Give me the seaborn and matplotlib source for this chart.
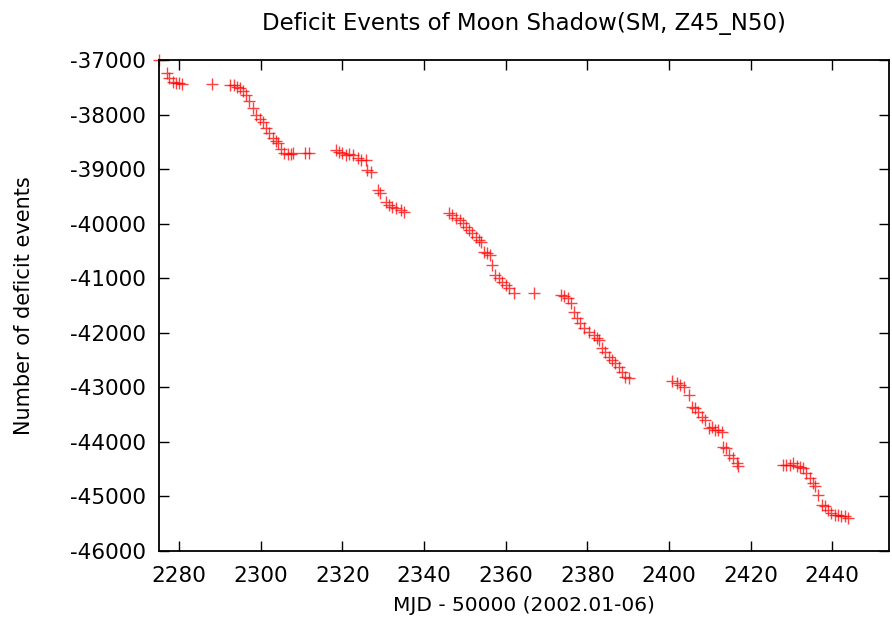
import numpy as np
import pandas as pd
import matplotlib
matplotlib.use("Agg")
import matplotlib.pyplot as plt
import seaborn as sns

MJD = [
    2275.0, 2276.9, 2277.6, 2278.4, 2279.2, 2279.9, 2280.6, 2288.0,
    2292.4, 2293.4, 2294.1, 2295.0, 2295.6, 2296.4, 2297.2, 2298.0, 2298.9,
    2299.7, 2300.5, 2301.3, 2302.1, 2302.9, 2303.6, 2304.3, 2305.0, 2305.7,
    2306.6, 2307.4, 2308.0, 2310.9, 2311.9,
    2318.4, 2319.2, 2320.0, 2320.9, 2321.7, 2322.5, 2323.7, 2324.5, 2325.7,
    2326.1, 2327.1, 2328.6, 2329.2, 2330.6, 2331.4, 2332.2, 2333.1, 2334.3,
    2335.1,
    2346.0, 2346.9, 2347.8, 2348.7, 2349.5, 2350.3, 2350.9, 2351.8, 2352.7,
    2353.5, 2354.0, 2354.6, 2355.4, 2356.1, 2356.7, 2357.5, 2358.4, 2359.2,
    2360.0, 2360.8, 2362.0, 2366.9,
    2373.6, 2374.4, 2375.3, 2376.0, 2376.8, 2377.5, 2378.3, 2379.1, 2380.4,
    2381.6, 2382.4, 2382.8, 2383.6, 2384.4, 2385.2, 2386.0, 2386.9, 2387.7,
    2388.5, 2389.3, 2390.1,
    2400.7, 2401.9, 2402.8, 2403.6, 2404.8, 2405.6, 2406.4, 2407.2, 2408.0,
    2408.9, 2409.7, 2410.5, 2411.3, 2412.1, 2412.9, 2413.3, 2414.1, 2414.6,
    2415.8, 2416.6, 2417.0,
    2428.0, 2428.8, 2429.6, 2430.5, 2431.3, 2432.1, 2432.9, 2433.7, 2434.5,
    2435.3, 2435.7, 2436.5, 2437.4, 2438.2, 2439.0, 2439.8, 2440.6, 2441.4,
    2442.2, 2443.1, 2443.9,
]
DEFICIT = [
    -37000, -37226, -37330, -37390, -37410, -37420, -37430, -37430,
    -37445, -37450, -37490, -37510, -37560, -37640, -37740, -37880, -38000,
    -38070, -38130, -38240, -38340, -38420, -38480, -38510, -38620, -38700,
    -38720, -38720, -38700, -38710, -38710,
    -38650, -38680, -38710, -38740, -38720, -38740, -38800, -38830, -38830,
    -39015, -39046, -39383, -39443, -39597, -39657, -39688, -39718, -39749,
    -39780,
    -39800, -39841, -39890, -39930, -39990, -40050, -40110, -40170, -40240,
    -40300, -40330, -40513, -40543, -40574, -40757, -40940, -41001, -41063,
    -41124, -41185, -41276, -41276,
    -41307, -41325, -41368, -41459, -41612, -41734, -41826, -41918, -41979,
    -42040, -42101, -42132, -42284, -42345, -42437, -42498, -42559, -42620,
    -42712, -42804, -42834,
    -42880, -42926, -42957, -42987, -43140, -43354, -43384, -43446, -43537,
    -43598, -43750, -43720, -43781, -43781, -43812, -44087, -44117, -44240,
    -44300, -44392, -44453,
    -44423, -44423, -44423, -44392, -44453, -44465, -44484, -44575, -44667,
    -44759, -44820, -44972, -45156, -45187, -45248, -45309, -45340, -45340,
    -45358, -45370, -45400,
]

X_TICKS = [2280, 2300, 2320, 2340, 2360, 2380, 2400, 2420, 2440]
Y_TICKS = [-37000, -38000, -39000, -40000, -41000, -42000, -43000,
           -44000, -45000, -46000]

df = pd.DataFrame({"mjd": MJD, "deficit": DEFICIT})

sns.set_style("ticks")
plt.rcParams["font.family"] = ["DejaVu Sans"]
plt.rcParams["axes.unicode_minus"] = False
plt.rcParams["text.color"] = "black"

fig, ax = plt.subplots(figsize=(8.92, 6.28), dpi=100)
fig.subplots_adjust(left=0.178, right=0.997, top=0.904, bottom=0.123)

sns.scatterplot(data=df, x="mjd", y="deficit", ax=ax, marker="+",
                color="#ff0000", s=70, linewidth=1.0, alpha=0.75)
for coll in ax.collections:
    coll.set_clip_on(False)

ax.set_xlim(2275, 2454)
ax.set_ylim(-46000, -37000)
ax.set_xticks(X_TICKS)
ax.set_yticks(Y_TICKS)
ax.set_xticklabels([str(t) for t in X_TICKS])
ax.set_yticklabels([str(t) for t in Y_TICKS])
ax.tick_params(direction="in", length=7, width=1, top=True, right=True,
               labelsize=15.5, colors="black", labelcolor="black")
ax.tick_params(axis="x", pad=11)
ax.tick_params(axis="y", pad=9)
for sp in ax.spines.values():
    sp.set_linewidth(1.3)
    sp.set_color("black")

ax.set_title("Deficit Events of Moon Shadow(SM, Z45_N50)", fontsize=16.5,
             pad=22, color="black")
ax.set_xlabel("MJD - 50000 (2002.01-06)", fontsize=14.5, labelpad=7,
              color="black")
ax.set_ylabel("Number of deficit events", fontsize=15, labelpad=26,
              color="black")

plt.savefig("out.png", dpi=100)
